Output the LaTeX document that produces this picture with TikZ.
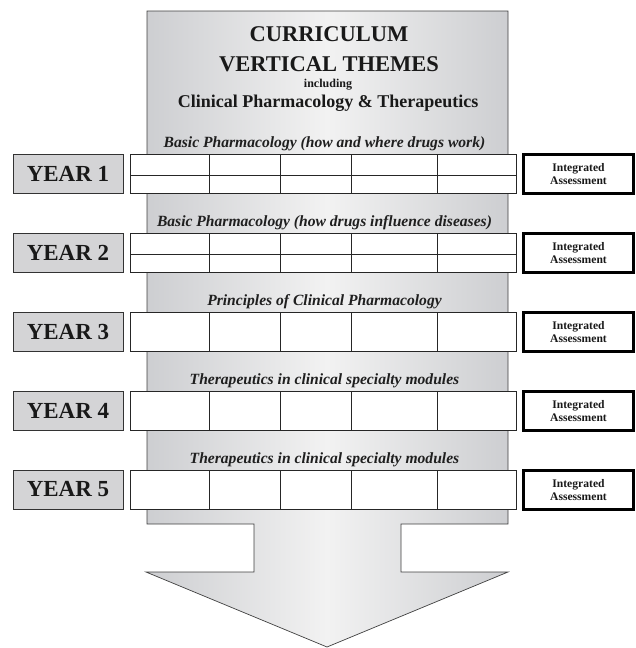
\documentclass[tikz,border=0pt]{standalone}
\usepackage{fontspec}
\setmainfont{Liberation Serif}
\definecolor{yeargray}{RGB}{212,212,214}
\definecolor{shgray}{RGB}{205,206,209}
\definecolor{shlight}{RGB}{242,242,242}
\begin{document}
\begin{tikzpicture}[x=1pt,y=-1pt,
  yearbox/.style={draw=black!80, fill=yeargray, line width=0.8pt, minimum width=110pt, minimum height=39pt, inner sep=0pt, font=\fontsize{23}{26}\selectfont\bfseries, text=black!90},
  rowbox/.style={draw=black!85, fill=white, line width=0.8pt, minimum width=386pt, minimum height=39pt, inner sep=0pt},
  divider/.style={draw=black!85, line width=0.8pt},
  assess/.style={draw=black, line width=3pt, fill=white, minimum width=110pt, minimum height=39pt, inner sep=0pt, align=center, font=\fontsize{11.6}{13}\selectfont\bfseries, text=black!90},
  theme/.style={anchor=base, inner sep=0pt, font=\fontsize{15.6}{17}\selectfont\bfseries\itshape, text=black!88},
  title/.style={anchor=base, inner sep=0pt, font=\bfseries, text=black!90},
  arrowshape/.style={draw=black!75, line width=0.7pt, left color=shgray, right color=shgray, middle color=shlight}
]
\useasboundingbox (0,0) rectangle (636,648);
% big arrow
\path[arrowshape] (147,11) -- (508,11) -- (508,524) -- (401,524) -- (401,572) -- (508,572)
  -- (327,647) -- (146,572) -- (254,572) -- (254,524) -- (147,524) -- cycle;
% title
\node[title, font=\fontsize{22.5}{24}\selectfont\bfseries] (tcur) at (329,41) {CURRICULUM};
\node[title, font=\fontsize{22.5}{24}\selectfont\bfseries] (tvert) at (329,71) {VERTICAL THEMES};
\node[title, font=\fontsize{12}{14}\selectfont\bfseries] (tinc) at (328,87) {including};
\node[title, font=\fontsize{18}{20}\selectfont\bfseries] (tcpt) at (328,107) {Clinical Pharmacology \& Therapeutics};
% years
\foreach \i/\t/\lab/\split in {
  1/154/{Basic Pharmacology (how and where drugs work)}/1,
  2/233/{Basic Pharmacology (how drugs influence diseases)}/1,
  3/312/{Principles of Clinical Pharmacology}/0,
  4/391/{Therapeutics in clinical specialty modules}/0,
  5/470/{Therapeutics in clinical specialty modules}/0}{
  \node[theme] (theme\i) at (324.5,\t-6.5) {\lab};
  \node[yearbox] (year\i) at (68,\t+19.5) {YEAR \i};
  \node[rowbox] (row\i) at (323,\t+19.5) {};
  \foreach \x in {209,280,351,437}{
    \draw[divider] (\x,\t) -- (\x,\t+39);
  }
  \ifnum\split=1
    \draw[divider] (130,\t+21) -- (516,\t+21);
  \fi
  \node[assess] (assess\i) at (578.5,\t+20) {Integrated\\Assessment};
}
\end{tikzpicture}
\end{document}
